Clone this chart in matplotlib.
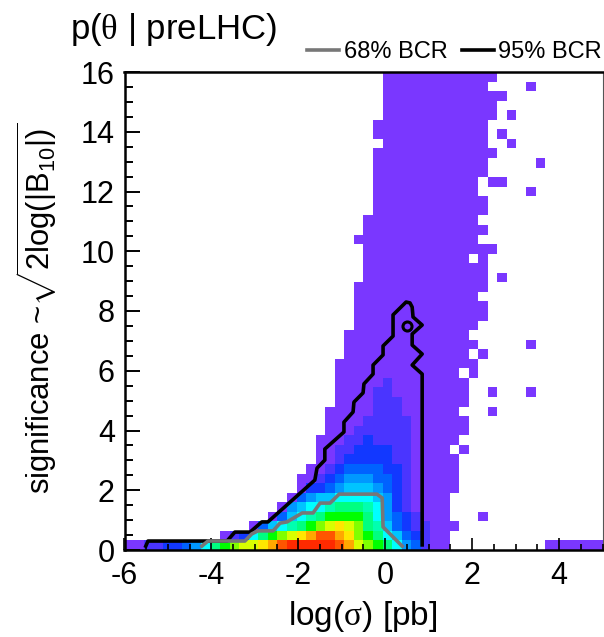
import numpy as np
import matplotlib
matplotlib.use("Agg")
import matplotlib.pyplot as plt
from matplotlib.colors import ListedColormap, BoundaryNorm
from matplotlib.lines import Line2D

plt.rcParams['font.family'] = ['Liberation Sans', 'DejaVu Sans']
plt.rcParams['mathtext.fontset'] = 'custom'
plt.rcParams['mathtext.rm'] = 'Liberation Sans'
plt.rcParams['mathtext.it'] = 'Liberation Serif'
plt.rcParams['mathtext.bf'] = 'Liberation Sans'
plt.rcParams['axes.unicode_minus'] = False

# histogram: 50 x 50 bins, rows listed from the top of the plot down
row_left = [27, 27, 27, 27, 27, 26, 26, 27, 26, 26,
            26, 26, 26, 26, 26, 25, 25, 24, 25, 25,
            25, 25, 24, 24, 24, 24, 24, 23, 23, 23,
            22, 22, 22, 22, 22, 21, 21, 21, 20, 20,
            20, 19, 18, 18, 17, 16, 15, 13, 10, 0]
row_right = [39, 38, 40, 39, 39, 38, 38, 38, 39, 38,
             38, 37, 37, 38, 38, 37, 38, 37, 39, 38,
             38, 38, 38, 37, 38, 38, 37, 36, 37, 36,
             37, 35, 36, 36, 36, 35, 36, 36, 35, 34,
             35, 35, 35, 35, 34, 34, 34, 35, 34, 34]

# isolated cells (row from top, column)
extra_rows = [1, 4, 6, 7, 9, 11, 11, 12, 21, 28, 29, 31, 33, 33, 35, 39, 46]
extra_cols = [42, 40, 39, 40, 43, 38, 39, 42, 39, 42, 37, 36, 38, 42, 38, 35, 37]
hole_rows = [19]
hole_cols = [36]
tail_row = 49
tail_cols = [44, 45, 46, 47, 48, 49]

palette = {'a': '#7a37ff', 'b': '#4a35ff', 'c': '#1238ff', 'd': '#0062ff',
           'e': '#0098ff', 'f': '#00c4ff', 'g': '#00ffff', 'h': '#00ffb0',
           'i': '#00ff80', 'j': '#00ff00', 'k': '#80ff00', 'l': '#d8ff00',
           'm': '#ffe600', 'n': '#ffa800', 'o': '#ff5500', 'p': '#ff2a00'}

# denser core: row from top -> first column, level letters
core_rows = {
    32: (27, "b"),
    33: (26, "bb"),
    34: (26, "bbb"),
    35: (26, "bbb"),
    36: (25, "bbbbb"),
    37: (24, "bbbbbb"),
    38: (23, "bbcbbbb"),
    39: (22, "bbccccbb"),
    40: (22, "bcccccbb"),
    41: (21, "bcddddccb"),
    42: (20, "bcdeeeddcb"),
    43: (19, "ccdefffedcb"),
    44: (18, "deffggggfecb"),
    45: (17, "efgghiiihgecb"),
    46: (16, "dfghijjjjigedcb"),
    47: (14, "dfghijklmlkihfdcbb"),
    48: (11, "bcgijklmnoonmkjigfdcb"),
    49: (2, "bbccdegijkllmnoppppponlkjigedb"),
}

# contours
bcr95_x = [-5.51, -5.46, -3.64, -3.46, -3.11, -2.84, -2.70, -1.62, -1.57, -1.39, -1.39,
           -0.95, -0.95, -0.74, -0.72, -0.51, -0.49, -0.28, -0.28, -0.05, -0.05, 0.18,
           0.18, 0.48, 0.57, 0.62, 0.64, 0.85, 0.62, 0.62, 0.85, 0.62, 0.85, 0.85]
bcr95_y = [0.13, 0.30, 0.30, 0.60, 0.60, 0.94, 0.94, 2.34, 2.74, 3.01, 3.38,
           3.95, 4.28, 4.62, 4.95, 5.26, 5.56, 5.89, 6.19, 6.53, 6.83, 7.16,
           7.87, 8.30, 8.27, 8.13, 7.80, 7.53, 7.23, 6.86, 6.56, 6.19, 5.89, 0.17]
island_x = [0.50]
island_y = [7.50]
bcr68_x = [-4.22, -4.08, -3.23, -3.07, -2.93, -2.58, -2.42, -2.26, -1.91, -1.66, -1.50,
           -1.27, -1.06, -0.19, -0.07, -0.05, 0.39]
bcr68_y = [0.13, 0.30, 0.30, 0.54, 0.64, 0.64, 0.90, 0.94, 1.24, 1.24, 1.57,
           1.57, 1.87, 1.87, 1.74, 0.77, 0.13]

letters = sorted(palette)
grid = np.full((50, 50), np.nan)
for k in range(50):
    grid[k, row_left[k]:row_right[k]] = 0
for k, i in zip(extra_rows, extra_cols):
    grid[k, i] = 0
for k, i in zip(hole_rows, hole_cols):
    grid[k, i] = np.nan
for i in tail_cols:
    grid[tail_row, i] = 0
for k, (start, levels) in core_rows.items():
    for n, c in enumerate(levels):
        grid[k, start + n] = letters.index(c)

x_edges = np.linspace(-6, 5, 51)
y_edges = np.linspace(16, 0, 51)

W, H = 604, 637
fig = plt.figure(figsize=(W / 100, H / 100), dpi=100, facecolor='w')
ax = fig.add_axes([124.5 / W, 1 - 550 / H, 478 / W, 478 / H])

cmap = ListedColormap([palette[c] for c in letters])
norm = BoundaryNorm(np.arange(-0.5, len(letters)), cmap.N)
ax.pcolormesh(x_edges, y_edges, np.ma.masked_invalid(grid), cmap=cmap, norm=norm,
              antialiased=False, zorder=1)

ax.plot(bcr95_x, bcr95_y, color='k', lw=2.6, zorder=3, solid_joinstyle='round')
ax.plot(island_x, island_y, 'o', mfc='none', mec='k', mew=2.2, ms=6.5, zorder=3)
ax.plot(bcr68_x, bcr68_y, color='#777777', lw=2.6, zorder=4, solid_joinstyle='round')

ax.set_xlim(-6, 5)
ax.set_ylim(0, 16)
ax.set_xticks([-6, -4, -2, 0, 2, 4])
ax.set_yticks(np.arange(0, 17, 2))
ax.set_xticks(np.arange(-6, 5.1, 0.5), minor=True)
ax.set_yticks(np.arange(0, 16.1, 0.5), minor=True)
ax.tick_params(axis='x', which='major', direction='in', length=8.6, width=1.2, labelsize=22, pad=8)
ax.tick_params(axis='x', which='minor', direction='in', length=4, width=1.2)
ax.tick_params(axis='y', which='major', direction='in', length=10.8, width=1.4, labelsize=22, pad=7)
ax.tick_params(axis='y', which='minor', direction='in', length=5.4, width=1.4)
ax.set_axisbelow(False)
for side in ['left', 'bottom', 'top']:
    ax.spines[side].set_linewidth(1.8)
ax.spines['right'].set_linewidth(0.8)
ax.spines['right'].set_color('#555555')

fig.text(70 / W, 1 - 30 / H, r"p($\theta$ | preLHC)", fontsize=25, ha='left', va='center')
fig.text(363 / W, 1 - 617 / H, r"log($\sigma$) [pb]", fontsize=24, ha='center', va='center')
fig.text(37 / W, 1 - 308 / H, r"significance ~$\sqrt{\mathrm{2log(|B_{10}|)}}$", fontsize=22.3,
         rotation=90, ha='center', va='center')

handles = [Line2D([], [], color='#777777', lw=2.6), Line2D([], [], color='k', lw=2.6)]
fig.legend(handles, ["68% BCR", "95% BCR"], loc='center right', bbox_to_anchor=(602 / W, 1 - 52 / H),
           ncol=2, frameon=False, fontsize=17, handlelength=1.35, handletextpad=0.2,
           columnspacing=0.6, borderpad=0, borderaxespad=0)

fig.savefig("out.png", dpi=100)
